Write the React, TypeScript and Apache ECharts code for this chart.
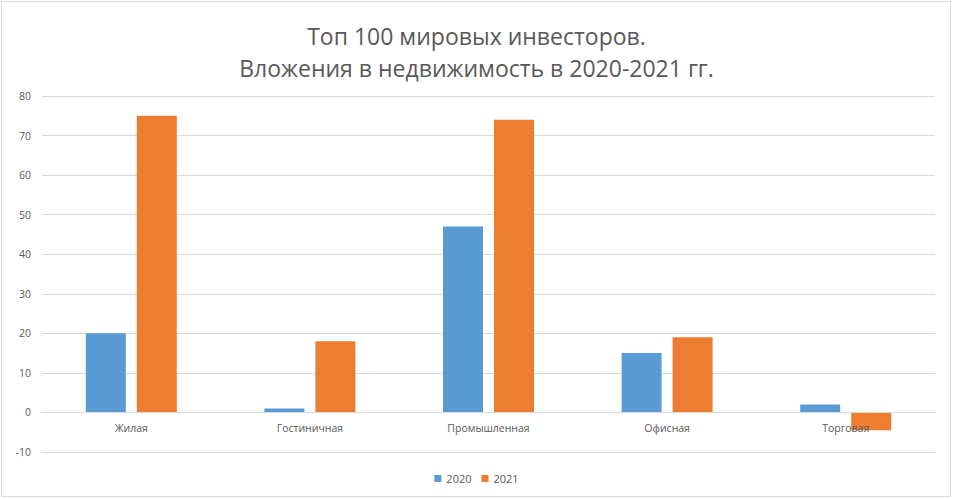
import React, { useEffect, useRef } from "react";
import * as echarts from "echarts";

const categories = ["Жилая", "Гостиничная", "Промышленная", "Офисная", "Торговая"];
const values2020 = [20, 1, 47, 15, 2];
const values2021 = [75, 18, 74, 19, -4.5];
const seriesNames = ["2020", "2021"];
const titleLines = ["Топ 100 мировых инвесторов.", "Вложения в недвижимость в 2020-2021 гг."];
const yMin = -10;
const yMax = 80;
const yStep = 10;

export default function App() {
  const ref = useRef<HTMLDivElement>(null);
  useEffect(() => {
    const chart = echarts.init(ref.current!, null, { renderer: "svg" });
    const font = "'Open Sans', 'Noto Sans', sans-serif";
    const gridTop = 96;
    const gridBottom = 47;
    const gridH = 499 - gridTop - gridBottom;
    const zeroOffset = (gridH * (0 - yMin)) / (yMax - yMin);
    chart.setOption({
      animation: false,
      backgroundColor: "#ffffff",
      textStyle: { fontFamily: font },
      title: {
        text: titleLines.join("\n"),
        left: "center",
        top: 15,
        textStyle: { fontFamily: font, fontSize: 23, fontWeight: "normal", color: "#595959", lineHeight: 32 },
      },
      graphic: [
        {
          type: "rect",
          shape: { x: 1.5, y: 1.5, width: 949, height: 495 },
          style: { fill: "none", stroke: "#d9d9d9", lineWidth: 1 },
          silent: true,
        },
      ],
      legend: {
        bottom: 10,
        left: "center",
        itemWidth: 7,
        itemHeight: 7,
        itemGap: 10,
        icon: "rect",
        textStyle: { fontFamily: font, fontSize: 11, color: "#595959" },
        data: seriesNames,
      },
      grid: { left: 42, right: 18, top: gridTop, bottom: gridBottom, containLabel: false },
      xAxis: {
        type: "category",
        data: categories,
        position: "bottom",
        offset: -zeroOffset,
        z: 5,
        axisTick: { show: false },
        axisLine: { onZero: false, lineStyle: { color: "#d9d9d9" } },
        axisLabel: { fontFamily: font, fontSize: 10.5, color: "#595959", margin: 10 },
      },
      yAxis: {
        type: "value",
        min: yMin,
        max: yMax,
        interval: yStep,
        axisLine: { show: false },
        axisTick: { show: false },
        splitLine: { lineStyle: { color: "#d9d9d9" } },
        axisLabel: { fontFamily: font, fontSize: 10.5, color: "#595959", margin: 11 },
      },
      series: [
        {
          name: seriesNames[0],
          type: "bar",
          data: values2020,
          barWidth: 40,
          barGap: "27.5%",
          itemStyle: { color: "#5B9BD5" },
        },
        {
          name: seriesNames[1],
          type: "bar",
          data: values2021,
          barWidth: 40,
          barGap: "27.5%",
          itemStyle: { color: "#ED7D31" },
        },
      ],
    });
    return () => chart.dispose();
  }, []);
  return (
    <div
      ref={ref}
      style={{ position: "fixed", left: 0, top: 0, width: 953, height: 499 }}
    />
  );
}
